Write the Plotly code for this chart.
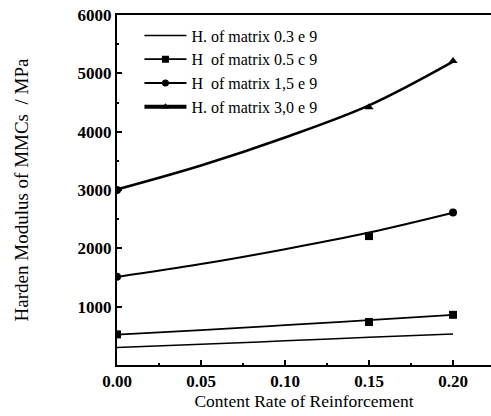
import plotly.graph_objects as go

# Curve points
x_curve = [0.0, 0.05, 0.10, 0.15, 0.20]
h03 = [300, 355, 415, 475, 530]
h05 = [520, 598, 682, 768, 860]
h15 = [1510, 1730, 1985, 2270, 2610]
h30 = [3010, 3420, 3900, 4450, 5200]

# Marked data points
x_pts = [0.0, 0.15, 0.20]
p05 = [525, 737, 860]
p15 = [1515, 2210, 2615]
p30 = [3000, 4420, 5210]

names = ["H. of matrix 0.3 e 9", "H  of matrix 0.5 c 9",
         "H  of matrix 1,5 e 9", "H. of matrix 3,0 e 9"]

x_ticks = [0.0, 0.05, 0.10, 0.15, 0.20]
x_ticklabels = ["0.00", "0.05", "0.10", "0.15", "0.20"]
y_ticks = [1000, 2000, 3000, 4000, 5000, 6000]

fig = go.Figure()
serif = "Liberation Serif"

curves = [h03, h05, h15, h30]
widths = [1.5, 1.8, 2, 2.5]
symbols = [None, "square", "circle", "triangle-up"]
pts = [None, p05, p15, p30]
pt_symbols = [None, ["square"] * 3, ["circle", "square", "circle"],
              ["circle", "triangle-up", "triangle-up"]]

for i in range(4):
    fig.add_trace(go.Scatter(x=x_curve, y=curves[i], mode="lines",
                             line=dict(color="black", width=widths[i], shape="spline"),
                             showlegend=False, hoverinfo="skip"))
    if pts[i] is not None:
        fig.add_trace(go.Scatter(x=x_pts, y=pts[i], mode="markers",
                                 marker=dict(color="black", size=8, symbol=pt_symbols[i]),
                                 showlegend=False))
    # legend entry
    if symbols[i] is None:
        fig.add_trace(go.Scatter(x=[None], y=[None], mode="lines", name=names[i],
                                 line=dict(color="black", width=widths[i])))
    else:
        fig.add_trace(go.Scatter(x=[None], y=[None], mode="lines+markers", name=names[i],
                                 line=dict(color="black", width=widths[i] + (1.5 if i == 3 else 0)),
                                 marker=dict(color="black", size=7, symbol=symbols[i])))

fig.update_layout(
    width=491, height=416,
    margin=dict(l=117, r=0, t=15, b=51),
    paper_bgcolor="white", plot_bgcolor="white",
    font=dict(family=serif, color="black"),
    showlegend=True,
    legend=dict(x=0.06, y=0.99, xanchor="left", yanchor="top",
                bgcolor="rgba(0,0,0,0)", font=dict(family=serif, size=16),
                itemwidth=42, tracegroupgap=0),
    xaxis=dict(range=[0, 0.2226], tickvals=x_ticks, ticktext=x_ticklabels,
               showgrid=False, zeroline=False, showline=True, linecolor="black",
               linewidth=2, mirror=True, ticks="inside", ticklen=5, tickwidth=1.5,
               tickcolor="black",
               minor=dict(dtick=0.025, ticks="inside", ticklen=2, tickcolor="black"),
               tickfont=dict(family=serif, size=17, color="black", weight="bold"),
               title=dict(text="Content Rate of Reinforcement",
                          font=dict(family=serif, size=17.5), standoff=2)),
    yaxis=dict(range=[0, 6000], tickvals=y_ticks,
               showgrid=False, zeroline=False, showline=True, linecolor="black",
               linewidth=2, ticks="inside", ticklen=5, tickwidth=1.5, tickcolor="black",
               minor=dict(dtick=500, ticks="inside", ticklen=2, tickcolor="black"),
               tickfont=dict(family=serif, size=17, color="black", weight="bold"),
               title=dict(text="Harden Modulus of MMCs  / MPa",
                          font=dict(family=serif, size=19), standoff=44)),
)

fig.write_html("out.html")
